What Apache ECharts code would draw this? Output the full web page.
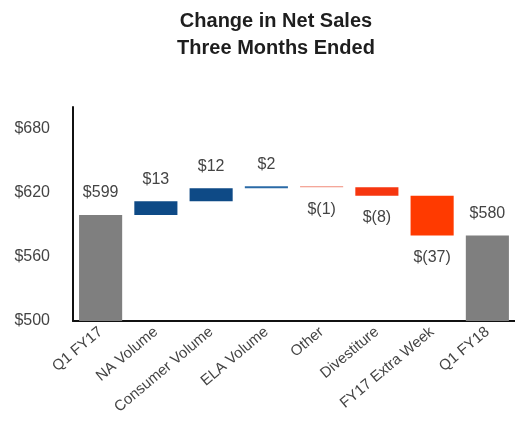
<!DOCTYPE html>
<html>
<head>
<meta charset="utf-8">
<script src="https://cdn.jsdelivr.net/npm/echarts@6/dist/echarts.min.js"></script>
<style>
  html, body { margin: 0; padding: 0; background: #fff; }
  #chart { width: 515px; height: 435px; }
</style>
</head>
<body>
<div id="chart"></div>
<script>
// waterfall data, in $M
const categories = ['Q1 FY17', 'NA Volume', 'Consumer Volume', 'ELA Volume', 'Other', 'Divestiture', 'FY17 Extra Week', 'Q1 FY18']
const startValue = 599
const deltas = [13, 12, 2, -1, -8, -37]
const endValue = 580
const yTicks = [500, 560, 620, 680]

const barColors = ['#7f7f7f', '#0e4a86', '#0e4a86', '#2a6aa6', '#f08a78', '#f6360f', '#ff3a00', '#7f7f7f']

const fmt = v => v < 0 ? `$(${Math.abs(v)})` : `$${v}`

// build base (invisible) and visible parts from the arrays
const baseData = []
const visData = []
baseData.push(0)
visData.push({ value: startValue, rawLabel: fmt(startValue), pos: 'top' })
let run = startValue
deltas.forEach(d => {
  const next = run + d
  baseData.push(Math.min(run, next))
  visData.push({ value: Math.abs(d), rawLabel: fmt(d), pos: d < 0 ? 'bottom' : 'top' })
  run = next
})
baseData.push(0)
visData.push({ value: endValue, rawLabel: fmt(endValue), pos: 'top' })

const chart = echarts.init(document.getElementById('chart'))

chart.setOption({
  backgroundColor: '#fff',
  animation: false,
  title: {
    text: 'Change in Net Sales\nThree Months Ended',
    left: 271,
    textAlign: 'center',
    top: 3,
    textStyle: {
      fontFamily: 'Liberation Sans Narrow, Arial Narrow, Liberation Sans, sans-serif',
      fontWeight: 'bold',
      fontSize: 20,
      lineHeight: 27,
      color: '#1e1e1e'
    }
  },
  grid: { left: 73, right: 0, top: 107, bottom: 114 },
  xAxis: {
    type: 'category',
    data: categories,
    axisLine: { lineStyle: { color: '#111', width: 2 } },
    axisTick: { show: false },
    axisLabel: {
      rotate: 40,
      interval: 0,
      margin: 9,
      fontSize: 15,
      fontFamily: 'Liberation Sans, Arial, sans-serif',
      color: '#444'
    }
  },
  yAxis: {
    type: 'value',
    min: 500,
    max: 700,
    interval: 60,
    splitLine: { show: false },
    axisTick: { show: false },
    axisLine: { show: true, lineStyle: { color: '#111', width: 2 } },
    axisLabel: {
      margin: 23,
      fontSize: 16,
      fontFamily: 'Liberation Sans, Arial, sans-serif',
      color: '#444',
      formatter: v => yTicks.includes(v) ? '$' + v : ''
    }
  },
  series: [
    {
      type: 'bar',
      stack: 'wf',
      silent: true,
      itemStyle: { color: 'transparent' },
      data: baseData
    },
    {
      type: 'bar',
      stack: 'wf',
      barCategoryGap: '22%',
      data: visData.map((d, i) => ({
        value: d.value,
        itemStyle: { color: barColors[i] },
        label: {
          show: true,
          position: d.pos,
          distance: 14,
          formatter: () => d.rawLabel,
          fontSize: 16,
          fontFamily: 'Liberation Sans, Arial, sans-serif',
          color: '#444'
        }
      }))
    }
  ]
})
</script>
</body>
</html>
